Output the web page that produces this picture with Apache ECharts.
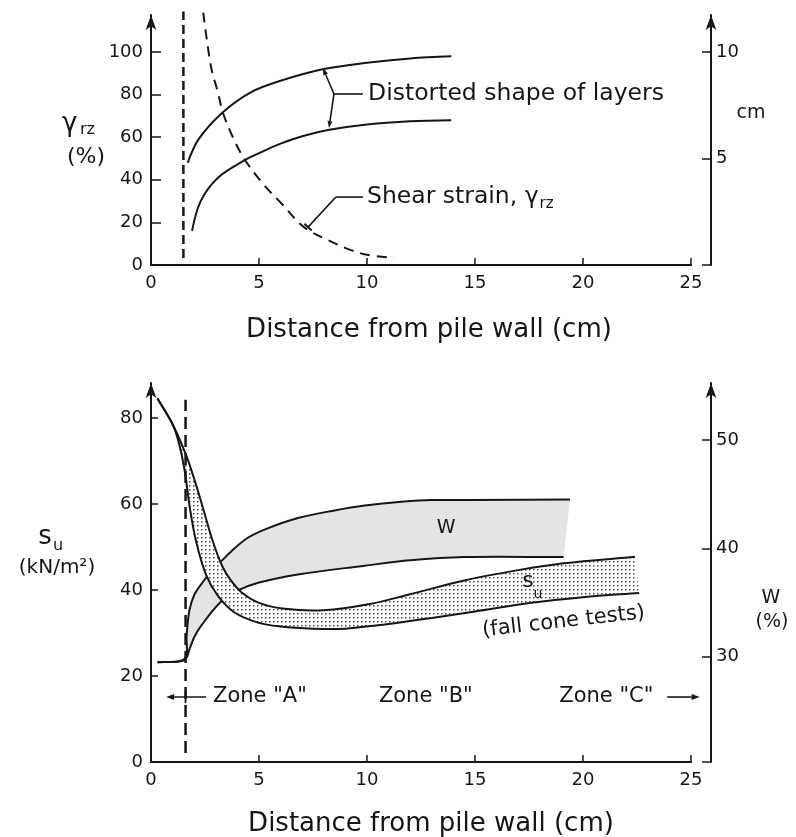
<!DOCTYPE html>
<html><head><meta charset="utf-8">
<script src="https://cdn.jsdelivr.net/npm/echarts@6/dist/echarts.min.js"></script>
<style>html,body{margin:0;padding:0;background:#fff}#c{width:796px;height:837px}</style>
</head><body><div id="c"></div>
<script>
// ---------------- data ----------------
const xTickValues = [0, 5, 10, 15, 20, 25];
const topLeftTicks = [0, 20, 40, 60, 80, 100];
const topRightTicks = [0, 5, 10];
const bottomLeftTicks = [0, 20, 40, 60, 80];
const bottomRightTicks = [30, 40, 50];

// top chart (x in cm)
const pileWallTop = [[1.5, 3.3], [1.5, 119]];
const shearStrain = [[2.42,118.5],[2.78,93],[3.1,81],[3.33,71.5],[3.85,58.7],[4.35,49.3],[5.23,37.6],[6.02,29.1],[7.08,17.8],[8.19,11.7],[9.26,7],[10,4.8],[11.25,3.3]];
const layerUpper = [[1.7,4.8],[2.2,5.9],[3.3,7.15],[4.6,8.1],[6,8.65],[8,9.2],[10,9.5],[12,9.7],[13.9,9.8]];
const layerLower = [[1.9,1.6],[2.3,3.0],[3.1,4.1],[4.3,4.9],[5,5.25],[6,5.7],[7,6.05],[8.25,6.35],[10,6.6],[12,6.75],[13.9,6.8]];

// bottom chart
const pileWallBottom = [[1.6, 2.1], [1.6, 84.2]];
const wUpper = [[0.3,29.5],[1.55,29.8],[1.65,32],[1.77,34.2],[2.0,35.7],[2.4,36.9],[2.8,37.9],[3.1,38.5],[3.7,39.7],[4.5,41.0],[5.4,41.85],[6.8,42.8],[8.5,43.5],[9.9,43.95],[11.6,44.3],[13,44.45],[19.4,44.5]];
const wLower = [[0.3,29.5],[1.55,29.7],[1.8,30.8],[2.0,31.8],[2.3,32.8],[3.2,35.0],[4.0,36.1],[5,36.85],[6.8,37.6],[9.9,38.4],[12,38.9],[14.5,39.2],[19.1,39.2]];
const suUpper = [[0.3,84.5],[1.0,78.5],[1.65,71],[2.05,65],[2.45,58.3],[2.85,51.5],[3.3,45.5],[3.7,42.2],[4.2,39.4],[5.0,37],[6.2,35.6],[8,35.3],[10,36.6],[12,39.0],[14.5,42.2],[17,44.6],[19.1,46.2],[22.4,47.7]];
const suLower = [[0.3,84.5],[1.0,78.5],[1.3,74],[1.55,68],[1.8,59],[2.1,51],[2.55,43.5],[3.1,38.6],[3.85,34.8],[4.95,32.4],[6,31.5],[7.5,31],[9,31],[10.5,31.8],[11.6,32.5],[13,33.5],[15,35],[17.6,37],[20,38.3],[22.6,39.3]];

// ---------------- styles ----------------
const INK = '#161616';
const FONT = 'DejaVu Sans';

const chart = echarts.init(document.getElementById('c'), null, {renderer: 'canvas'});

const pc = document.createElement('canvas');
pc.width = 4; pc.height = 4;
const pg = pc.getContext('2d');
pg.fillStyle = '#ffffff'; pg.fillRect(0, 0, 4, 4);
pg.fillStyle = '#4a4a4a'; pg.fillRect(1, 1, 1.5, 1.5);
const dotPattern = {image: pc, repeat: 'repeat'};

function xAxisCfg(gi) {
  return {type: 'value', gridIndex: gi, min: 0, max: 25,
    axisLine: {show: true, lineStyle: {color: INK, width: 2}},
    axisTick: {show: true, inside: true, length: 7, lineStyle: {color: INK, width: 1.5}, customValues: xTickValues.slice(1)},
    axisLabel: {color: INK, fontSize: 18, fontFamily: FONT, margin: 9, customValues: xTickValues},
    splitLine: {show: false}};
}
function yAxisCfg(gi, pos, min, max, ticks, labels, tickLen, offset) {
  return {type: 'value', gridIndex: gi, position: pos, offset: offset || 0, min: min, max: max,
    axisLine: {show: true, onZero: false, symbol: ['none', 'arrow'], symbolSize: [8, 15], lineStyle: {color: INK, width: 2}},
    axisTick: {show: true, inside: true, length: tickLen, lineStyle: {color: INK, width: 1.5}, customValues: ticks},
    axisLabel: {color: INK, fontSize: 18, fontFamily: FONT, margin: pos === 'left' ? 8 : 5, customValues: labels},
    splitLine: {show: false}};
}
// smooth path through pixel points (rendering only)
function ctrl(prev, cur, next, after, k) {
  const vx = next[0] - prev[0], vy = next[1] - prev[1];
  const d0 = Math.hypot(cur[0] - prev[0], cur[1] - prev[1]);
  const d1 = Math.hypot(next[0] - cur[0], next[1] - cur[1]);
  const s = (d0 + d1) || 1;
  const f = after ? k * d1 / s : -k * d0 / s;
  return [cur[0] + vx * f, cur[1] + vy * f];
}
function curvePath(pts, start) {
  const k = 0.35;
  let d = start + pts[0][0].toFixed(2) + ' ' + pts[0][1].toFixed(2);
  for (let i = 0; i < pts.length - 1; i++) {
    const p0 = pts[i - 1] || pts[i], p1 = pts[i], p2 = pts[i + 1], p3 = pts[i + 2] || pts[i + 1];
    const c1 = ctrl(p0, p1, p2, true, k), c2 = ctrl(p1, p2, p3, false, k);
    d += ' C' + c1[0].toFixed(2) + ' ' + c1[1].toFixed(2) + ' ' + c2[0].toFixed(2) + ' ' + c2[1].toFixed(2) + ' ' + p2[0].toFixed(2) + ' ' + p2[1].toFixed(2);
  }
  return d;
}
function band(upper, lower, fill) {
  return function (params, api) {
    const up = upper.map(p => api.coord(p));
    const lo = lower.map(p => api.coord(p));
    const rev = lo.slice().reverse();
    const fillPath = curvePath(up, 'M') + ' ' + curvePath(rev, 'L') + ' Z';
    return {type: 'group', children: [
      {type: 'path', shape: {pathData: fillPath}, style: {fill: fill, stroke: null}},
      {type: 'path', shape: {pathData: curvePath(up, 'M')}, style: {stroke: INK, lineWidth: 2, fill: null}},
      {type: 'path', shape: {pathData: curvePath(lo, 'M')}, style: {stroke: INK, lineWidth: 2, fill: null}}
    ]};
  };
}
function lineSeries(data, xi, yi, extra) {
  return Object.assign({type: 'line', data: data, xAxisIndex: xi, yAxisIndex: yi, showSymbol: false, symbol: 'none',
    smooth: 0.35, silent: true, clip: false, lineStyle: {color: INK, width: 2}}, extra || {});
}

chart.setOption({
  animation: false,
  backgroundColor: '#fff',
  grid: [
    {left: 151, width: 540, top: 15, height: 250, containLabel: false, outerBoundsMode: 'none'},
    {left: 151, width: 540, top: 383, height: 379, containLabel: false, outerBoundsMode: 'none'}
  ],
  xAxis: [xAxisCfg(0), xAxisCfg(1)],
  yAxis: [
    yAxisCfg(0, 'left', 0, 117.4, topLeftTicks, topLeftTicks, 10),
    yAxisCfg(0, 'right', 0, 11.74, topRightTicks, [5, 10], 9, 20),
    yAxisCfg(1, 'left', 0, 88.1, bottomLeftTicks, bottomLeftTicks, 7),
    yAxisCfg(1, 'right', 20.3, 55.25, [20.3].concat(bottomRightTicks), bottomRightTicks, 9, 20)
  ],
  series: [
    lineSeries(pileWallTop, 0, 0, {smooth: false, lineStyle: {color: INK, width: 2.5, type: [9, 5]}}),
    lineSeries(shearStrain, 0, 0, {lineStyle: {color: INK, width: 2, type: [10, 7]}}),
    lineSeries(layerUpper, 0, 1),
    lineSeries(layerLower, 0, 1),
    {type: 'custom', coordinateSystem: 'cartesian2d', xAxisIndex: 1, yAxisIndex: 3, silent: true,
      data: [[0, 30]], renderItem: band(wUpper, wLower, '#e4e4e4')},
    {type: 'custom', coordinateSystem: 'cartesian2d', xAxisIndex: 1, yAxisIndex: 2, silent: true,
      data: [[0, 30]], renderItem: band(suUpper, suLower, dotPattern)},
    lineSeries(pileWallBottom, 1, 2, {smooth: false, lineStyle: {color: INK, width: 2.5, type: [12, 6]}})
  ]
});

// ---------------- annotations ----------------
const P = (xi, yi, pt) => chart.convertToPixel({xAxisIndex: xi, yAxisIndex: yi}, pt);
const mctx = document.createElement('canvas').getContext('2d');
function textW(t, size) { mctx.font = size + 'px ' + FONT; return mctx.measureText(t).width; }
function txt(t, x, y, size, align, extra) {
  return Object.assign({type: 'text', x: x, y: y, z: 100, silent: true,
    style: {text: t, fontSize: size, fontFamily: FONT, fill: INK, align: align || 'left', verticalAlign: 'middle'}}, extra || {});
}
function seg(a, b, w) { return {type: 'line', z: 100, silent: true, shape: {x1: a[0], y1: a[1], x2: b[0], y2: b[1]}, style: {stroke: INK, lineWidth: w || 1.6}}; }
function arrow(a, b, size, hw) {
  const dx = b[0] - a[0], dy = b[1] - a[1], L = Math.hypot(dx, dy), ux = dx / L, uy = dy / L;
  const bx = b[0] - ux * size, by = b[1] - uy * size;
  return [seg(a, [bx, by]), {type: 'polygon', z: 100, silent: true,
    shape: {points: [b, [bx - uy * hw, by + ux * hw], [bx + uy * hw, by - ux * hw]]}, style: {fill: INK}}];
}

const g = [];
// top chart: distorted shape bracket
const V = P(0, 0, [8.47, 80.3]);
g.push(...arrow(V, P(0, 0, [7.96, 92.5]), 7, 2.5));
g.push(...arrow(V, P(0, 0, [8.24, 64.3]), 7, 2.5));
g.push(seg(V, P(0, 0, [9.81, 80.3])));
const tD = P(0, 0, [10.05, 80.3]);
g.push(txt('Distorted shape of layers', tD[0], tD[1], 23.5, 'left'));
// shear strain leader
const K = P(0, 0, [8.56, 31.9]), E = P(0, 0, [7.27, 17.8]);
g.push(seg(P(0, 0, [9.81, 31.9]), K), seg(K, E));
{
  const dx = E[0] - K[0], dy = E[1] - K[1], L = Math.hypot(dx, dy), nx = -dy / L * 5, ny = dx / L * 5;
  g.push(seg([E[0] - nx, E[1] - ny], [E[0] + nx, E[1] + ny], 2));
}
const tS = P(0, 0, [10.0, 31.9]);
const sLead = 'Shear strain, γ';
g.push(txt(sLead, tS[0], tS[1], 23.5, 'left'));
g.push(txt('rz', tS[0] + textW(sLead, 23.5) + 1, tS[1] + 7, 15, 'left'));

// top axis titles
g.push(txt('γ', 62, 124, 26, 'left'));
g.push(txt('rz', 80, 130, 16, 'left'));
g.push(txt('(%)', 86, 157, 22, 'center'));
g.push(txt('cm', 751, 113, 19, 'center'));
g.push(txt('Distance from pile wall (cm)', 429, 330, 26, 'center'));

// bottom chart labels
const wl = P(1, 3, [13.66, 41.9]);
g.push(txt('W', wl[0], wl[1], 19, 'center'));
const sl = P(1, 2, [17.45, 41.9]);
g.push(txt('s', sl[0], sl[1], 22, 'center'));
g.push(txt('u', sl[0] + 10, sl[1] + 13, 14, 'center'));
const fc = P(1, 2, [19.1, 32.6]);
g.push(txt('(fall cone tests)', fc[0], fc[1], 21, 'center', {rotation: 6.4 * Math.PI / 180, originX: 0, originY: 0}));

// zones
const zy = 15.1;
const zA = P(1, 2, [2.87, zy]), zB = P(1, 2, [10.55, zy]), zC = P(1, 2, [18.9, zy]);
g.push(txt('Zone "A"', zA[0], zA[1], 21, 'left'));
g.push(txt('Zone "B"', zB[0], zB[1], 21, 'left'));
g.push(txt('Zone "C"', zC[0], zC[1], 21, 'left'));
g.push(...arrow(P(1, 2, [2.55, zy]), P(1, 2, [0.7, zy]), 8, 3));
const zt = P(1, 2, [1.6, zy]);
g.push(seg([zt[0], zt[1] - 6], [zt[0], zt[1] + 6], 1.8));
g.push(...arrow(P(1, 2, [23.9, zy]), P(1, 2, [25.4, zy]), 8, 3));

// bottom axis titles
g.push(txt('s', 45, 537, 26, 'center'));
g.push(txt('u', 58, 546, 16, 'center'));
g.push(txt('(kN/m²)', 57, 568, 20, 'center'));
g.push(txt('W', 771, 598, 19, 'center'));
g.push(txt('(%)', 772, 622, 19, 'center'));
g.push(txt('Distance from pile wall (cm)', 431, 824, 26, 'center'));

chart.setOption({graphic: g});
</script>
</body></html>
